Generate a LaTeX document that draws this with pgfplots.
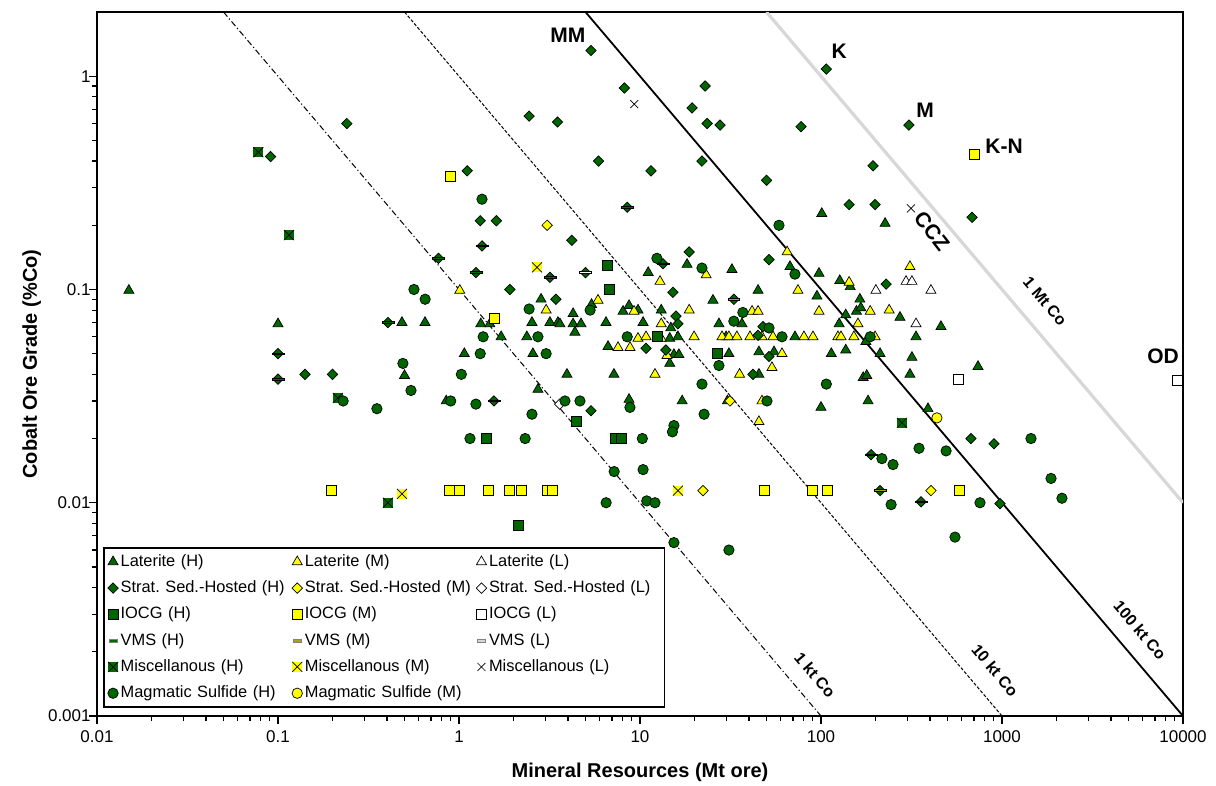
\documentclass[border=0pt]{standalone}
\usepackage{fontspec}
\setmainfont{Liberation Sans}
\usepackage{pgfplots}
\pgfplotsset{compat=1.18}
\definecolor{cogreen}{RGB}{0,102,0}
\definecolor{coyellow}{RGB}{255,255,0}
\definecolor{lgrey}{RGB}{215,215,215}
\definecolor{vmsolive}{RGB}{170,160,30}

% square turned by 45 degrees, as wide as it is high
\pgfdeclareplotmark{rdiamond}{%
  \pgfpathmoveto{\pgfqpoint{0pt}{\pgfplotmarksize}}%
  \pgfpathlineto{\pgfqpoint{\pgfplotmarksize}{0pt}}%
  \pgfpathlineto{\pgfqpoint{0pt}{-\pgfplotmarksize}}%
  \pgfpathlineto{\pgfqpoint{-\pgfplotmarksize}{0pt}}%
  \pgfpathclose
  \pgfusepathqfillstroke}
% filled box with a cross
\pgfdeclareplotmark{xbox}{%
  \pgfpathrectangle{\pgfqpoint{-\pgfplotmarksize}{-\pgfplotmarksize}}{\pgfqpoint{2\pgfplotmarksize}{2\pgfplotmarksize}}%
  \pgfusepathqfill
  \pgfpathmoveto{\pgfqpoint{-\pgfplotmarksize}{-\pgfplotmarksize}}%
  \pgfpathlineto{\pgfqpoint{\pgfplotmarksize}{\pgfplotmarksize}}%
  \pgfpathmoveto{\pgfqpoint{-\pgfplotmarksize}{\pgfplotmarksize}}%
  \pgfpathlineto{\pgfqpoint{\pgfplotmarksize}{-\pgfplotmarksize}}%
  \pgfusepathqstroke}
% VMS: green diamond with a coloured bar across
\newcommand\defvms[2]{%
  \pgfdeclareplotmark{#1}{%
    \pgfpathmoveto{\pgfqpoint{0pt}{\pgfplotmarksize}}%
    \pgfpathlineto{\pgfqpoint{\pgfplotmarksize}{0pt}}%
    \pgfpathlineto{\pgfqpoint{0pt}{-\pgfplotmarksize}}%
    \pgfpathlineto{\pgfqpoint{-\pgfplotmarksize}{0pt}}%
    \pgfpathclose
    \pgfsetfillcolor{cogreen}%
    \pgfusepathqfillstroke
    \pgfpathrectangle{\pgfqpoint{-1.15\pgfplotmarksize}{-0.4pt}}{\pgfqpoint{2.3\pgfplotmarksize}{0.8pt}}%
    \pgfsetfillcolor{#2}%
    \pgfusepathqfillstroke}}
\defvms{vmsH}{cogreen}
\defvms{vmsM}{vmsolive}
\defvms{vmsL}{white}

\tikzset{lineLbl/.style={font=\fontsize{8}{9}\selectfont\bfseries, rotate=-49.7},
  depLbl/.style={font=\fontsize{10.5}{12}\selectfont\bfseries}}

\pgfplotsset{
  pt/.style={only marks, line width=0.35pt, mark options={draw=black, line width=0.35pt}},
  lat/.style={pt, mark=triangle*, mark size=2.9pt, mark options={fill=#1}},
  ssh/.style={pt, mark=rdiamond, mark size=2.6pt, mark options={fill=#1}},
  iocg/.style={pt, mark=square*, mark size=2.5pt, mark options={fill=#1}},
  mag/.style={pt, mark=*, mark size=2.6pt, mark options={fill=#1}},
  vms/.style={pt, mark=#1, mark size=2.6pt},
  vmsleg/.style={legend image code/.code={%
      \draw[draw=gray, line width=0.2pt, fill=#1] (0.05cm,-0.8pt) rectangle (0.19cm,0.8pt);}},
}

\begin{document}
\begin{tikzpicture}
\useasboundingbox (-48.5pt,-35pt) rectangle (559.5pt,358pt);
\begin{axis}[
  scale only axis, width=543pt, height=352pt,
  xmode=log, ymode=log,
  xmin=0.01, xmax=10000, ymin=0.001, ymax=2,
  xtick={0.01,0.1,1,10,100,1000,10000},
  xticklabels={0.01,0.1,1,10,100,1000,10000},
  ytick={0.001,0.01,0.1,1},
  yticklabels={0.001,0.01,0.1,1},
  /pgf/number format/assume math mode=true,
  tick align=outside, tick pos=left,
  major tick length=4pt, minor tick length=2.5pt,
  tick style={black, line width=0.6pt},
  axis line style={line width=1pt},
  ticklabel style={font=\fontsize{8.5}{10}\selectfont},
  yticklabel style={inner sep=1pt, xshift=2pt},
  label style={font=\fontsize{10}{12}\selectfont\bfseries},
  xlabel={Mineral Resources (Mt ore)},
  ylabel={Cobalt Ore Grade (\%Co)},
  xlabel style={yshift=-3pt},
  ylabel style={yshift=-1pt},
  legend columns=3,
  legend image code/.code={%
    \draw[mark repeat=2,mark phase=2,#1] plot coordinates {(0cm,0cm)(0.12cm,0cm)(0.24cm,0cm)};},
  legend style={at={(0.0055,0.0114)}, anchor=south west, draw=black, line width=0.9pt,
    font=\fontsize{8.2}{9.5}\selectfont, inner sep=2pt, row sep=3.3pt,
    nodes={text width=84.5pt, inner sep=1.2pt}},
  legend cell align=left,
]
% contained-cobalt lines
\addplot[forget plot, black, line width=0.5pt, dash pattern=on 3pt off 1.3pt on 0.6pt off 1.3pt] coordinates {(0.05,2)(100,0.001)};
\addplot[forget plot, black, line width=0.5pt, dash pattern=on 1.6pt off 0.9pt] coordinates {(0.5,2)(1000,0.001)};
\addplot[forget plot, black, line width=0.9pt] coordinates {(5,2)(10000,0.001)};
\addplot[forget plot, lgrey, line width=1.6pt] coordinates {(50,2)(10000,0.01)};

% Laterite
\addplot[lat=cogreen] coordinates {
(0.015,0.099)(0.1,0.069)(0.484,0.07)(0.649,0.07)(0.50,0.0395)(0.85,0.030)
(1.07,0.05)(1.32,0.069)(1.48,0.069)(1.71,0.060)(2.37,0.060)(2.53,0.07)
(2.56,0.05)(2.73,0.034)(2.84,0.09)(3.18,0.07)(3.52,0.07)(3.61,0.069)
(3.95,0.040)(4.27,0.077)(4.27,0.069)(4.37,0.063)(4.72,0.069)(5.4,0.085)
(6.49,0.07)(6.66,0.054)(7.18,0.040)(8.06,0.079)(8.7,0.084)(8.7,0.0305)
(9.75,0.080)(10.4,0.07)(11.1,0.12)(13.1,0.08)(14.6,0.059)(14.6,0.045)
(14.8,0.066)(15.4,0.0495)(16.4,0.0495)(16.2,0.06)(17.1,0.030)(18.2,0.131)
(25.3,0.089)(27.3,0.069)(29.9,0.06)(30.4,0.030)(31.0,0.05)(32.2,0.124)
(36.6,0.069)(44.9,0.099)(45.4,0.051)(45.4,0.040)(55,0.051)(67.4,0.128)
(71.8,0.06)(95,0.093)(97.5,0.119)(100,0.028)(101,0.227)(114,0.05)
(126,0.069)(127,0.11)(137,0.076)(137,0.052)(145,0.103)(157,0.079)
(166,0.082)(164,0.09)(171,0.0386)(177,0.057)(179,0.0395)(182,0.030)
(212,0.05)(226,0.204)(273,0.074)(310,0.040)(318,0.048)(335,0.06)
(390,0.0276)(460,0.067)(737,0.0435)
};
\addlegendentry{Laterite (H)}
\addplot[lat=coyellow] coordinates {
(1.01,0.099)(3.03,0.080)(5.86,0.089)(7.56,0.0534)(8.81,0.0534)(9.27,0.079)
(9.75,0.059)(10.8,0.06)(12.1,0.040)(12.9,0.109)(13.1,0.069)(13.1,0.059)
(14.1,0.049)(18.7,0.080)(19.9,0.06)(23.2,0.117)(28.4,0.06)(31.0,0.06)
(34.3,0.06)(35.5,0.040)(40.5,0.06)(41.6,0.079)(44.9,0.079)(45.4,0.024)
(47.2,0.06)(47.2,0.030)(53.6,0.043)(54.3,0.06)(60.9,0.05)(65,0.15)
(74.6,0.099)(80.5,0.06)(90.3,0.06)(97.5,0.079)(124,0.06)(129,0.06)
(143,0.108)(152,0.06)(160,0.069)(187,0.079)(199,0.06)(238,0.08)(310,0.128)
};
\addlegendentry{Laterite (M)}
\addplot[lat=white] coordinates {
(201,0.099)(295,0.109)(318,0.109)(335,0.069)(405,0.099)
};
\addlegendentry{Laterite (L)}

% Stratiform sediment-hosted
\addplot[ssh=cogreen] coordinates {
(0.091,0.42)(0.24,0.60)(0.141,0.040)(0.2,0.040)(1.11,0.36)(1.31,0.21)
(1.61,0.21)(1.91,0.10)(2.44,0.65)(3.43,0.09)(3.5,0.61)(4.2,0.17)
(5.36,1.32)(5.36,0.027)(5.9,0.40)(8.2,0.88)(10.8,0.053)(11.5,0.36)
(13.9,0.052)(15.2,0.097)(15.8,0.075)(16.2,0.069)(18.7,0.15)(19.4,0.71)
(22,0.40)(22.9,0.90)(23.5,0.60)(27.7,0.59)(42.1,0.040)(44.9,0.061)
(47.8,0.067)(50,0.325)(51.6,0.138)(51.6,0.0485)(77.6,0.58)(107,1.08)
(143,0.25)(194,0.38)(199,0.25)(229,0.106)(306,0.59)(674,0.020)
(683,0.218)(903,0.0189)(975,0.0099)
};
\addlegendentry{Strat.\ Sed.-Hosted (H)}
\addplot[ssh=coyellow] coordinates {
(3.07,0.20)(22.3,0.0114)(31.4,0.030)(405,0.0114)
};
\addlegendentry{Strat.\ Sed.-Hosted (M)}
\addplot[ssh=white] coordinates {
(3.6,0.029)
};
\addlegendentry{Strat.\ Sed.-Hosted (L)}

% IOCG
\addplot[iocg=cogreen] coordinates {
(1.41,0.020)(2.14,0.0078)(4.43,0.024)(6.6,0.13)(6.8,0.10)(7.3,0.020)
(7.9,0.020)(12.4,0.06)(26.6,0.05)
};
\addlegendentry{IOCG (H)}
\addplot[iocg=coyellow] coordinates {
(0.196,0.0114)(0.88,0.0114)(1.01,0.0114)(0.9,0.34)(1.46,0.0114)(1.56,0.073)
(1.89,0.0114)(2.20,0.0114)(3.06,0.0114)(3.26,0.0114)
(48.4,0.0114)(89.1,0.0114)(109,0.0114)(579,0.0114)(700,0.43)
};
\addlegendentry{IOCG (M)}
\addplot[iocg=white] coordinates {
(571,0.038)(9270,0.0375)
};
\addlegendentry{IOCG (L)}

% VMS
\addplot[vms=vmsH, vmsleg=cogreen] coordinates {
(0.1,0.05)(0.1,0.038)(0.405,0.070)(0.77,0.14)(1.24,0.12)(1.34,0.16)
(1.56,0.030)(3.18,0.114)(8.5,0.243)(13.4,0.132)
};
\addlegendentry{VMS (H)}
\addplot[vms=vmsM, vmsleg=vmsolive] coordinates {
(33,0.09)(189,0.0168)(212,0.0114)
};
\addlegendentry{VMS (M)}
\addplot[vms=vmsL, vmsleg=lgrey] coordinates {
(5.0,0.12)(357,0.0101)
};
\addlegendentry{VMS (L)}

% Miscellaneous
\addplot[pt, mark=xbox, mark size=2.5pt, mark options={fill=cogreen}] coordinates {
(0.078,0.44)(0.115,0.18)(0.214,0.031)(0.405,0.010)(280,0.0237)
};
\addlegendentry{Miscellanous (H)}
\addplot[pt, mark=xbox, mark size=2.5pt, mark options={fill=coyellow}] coordinates {
(0.484,0.011)(2.7,0.127)(16.2,0.0114)
};
\addlegendentry{Miscellanous (M)}
\addplot[pt, mark=x, mark size=2.8pt] coordinates {
(9.3,0.74)(314,0.24)
};
\addlegendentry{Miscellanous (L)}

% Magmatic sulfide
\addplot[mag=cogreen] coordinates {
(0.229,0.030)(0.352,0.0276)(0.49,0.045)(0.543,0.0336)(0.564,0.10)(0.65,0.09)
(0.90,0.030)(1.03,0.040)(1.15,0.020)(1.24,0.029)(1.31,0.05)(1.34,0.265)
(1.36,0.060)(2.32,0.020)(2.44,0.081)(2.53,0.026)(2.73,0.06)(3.03,0.05)
(3.85,0.030)(4.66,0.030)(5.3,0.080)(6.5,0.010)(7.2,0.014)(8.5,0.060)
(8.8,0.028)(10.3,0.020)(10.4,0.0143)(10.9,0.0102)(12.1,0.010)(12.4,0.14)
(15.4,0.023)(15.1,0.0215)(15.4,0.0065)(22,0.126)(22,0.036)(22.6,0.026)
(27.3,0.044)(31,0.006)(33,0.071)(37,0.078)(50.3,0.030)(51.6,0.066)
(58.6,0.20)(60.9,0.06)(71.8,0.118)(107,0.036)(187,0.060)(217,0.0161)
(244,0.0098)(250,0.0151)(348,0.018)(491,0.0175)(550,0.0069)(756,0.010)
(1446,0.020)(1866,0.013)(2144,0.0105)
};
\addlegendentry{Magmatic Sulfide (H)}
\addplot[mag=coyellow] coordinates {
(437,0.025)
};
\addlegendentry{Magmatic Sulfide (M)}

% deposit labels
\node[depLbl] at (axis cs:4.0,1.56) {MM};
\node[depLbl] at (axis cs:126,1.31) {K};
\node[depLbl] at (axis cs:376,0.69) {M};
\node[depLbl] at (axis cs:1026,0.47) {K-N};
\node[depLbl, rotate=-52] at (axis cs:410,0.187) {CCZ};
\node[depLbl] at (axis cs:7760,0.0485) {OD};
% line labels
\node[lineLbl] at (axis cs:92.7,0.00156) {1 kt Co};
\node[lineLbl] at (axis cs:915,0.00164) {10 kt Co};
\node[lineLbl] at (axis cs:5785,0.00253) {100 kt Co};
\node[lineLbl] at (axis cs:1729,0.0879) {1 Mt Co};
\end{axis}
\end{tikzpicture}
\end{document}
